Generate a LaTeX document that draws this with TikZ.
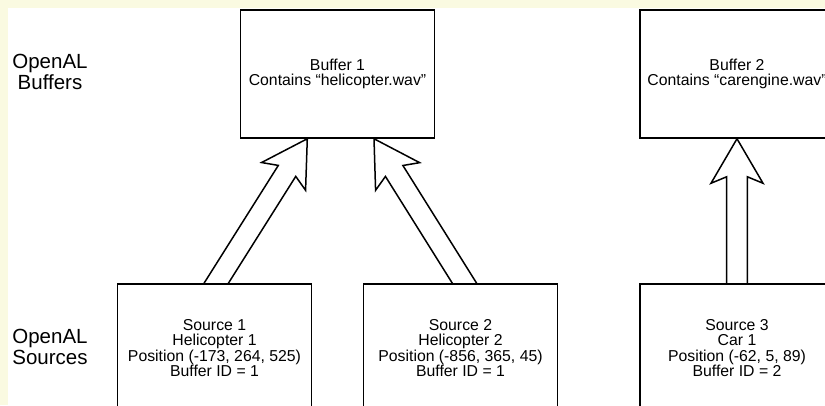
\documentclass[tikz,border=0pt]{standalone}
\usepackage{fontspec}
\setmainfont{Liberation Sans}
\usetikzlibrary{calc,backgrounds}
\pgfdeclarelayer{back}
\pgfsetlayers{back,background,main}
\definecolor{pagebg}{HTML}{FAFAE1}
\tikzset{
  box/.style={draw=black, line width=1.5pt, fill=white, minimum width=194pt, minimum height=128pt,
    align=center, inner sep=0pt, font=\fontsize{15.8pt}{15.6pt}\selectfont},
  rowlabel/.style={align=center, inner sep=0pt, font=\fontsize{20.5pt}{21pt}\selectfont},
  blockarrow/.style={draw=black, line width=1.5pt, fill=white, line join=miter}
}
\newcommand\blockarrow[2]{% #1 base point, #2 tip
  \coordinate (ba-s) at ($(#1)!-25pt!(#2)$);
  \coordinate (ba-n) at ($(#2)!38pt!(#1)$);
  \coordinate (ba-b) at ($(#2)!44.5pt!(#1)$);
  \draw[blockarrow] ($(ba-s)!10.3pt!90:(#2)$) -- ($(ba-n)!10.3pt!90:(#2)$)
    -- ($(ba-b)!26pt!90:(#2)$) -- (#2) -- ($(ba-b)!26pt!-90:(#2)$)
    -- ($(ba-n)!10.3pt!-90:(#2)$) -- ($(ba-s)!10.3pt!-90:(#2)$) -- cycle;
}
\begin{document}
\begin{tikzpicture}[x=1pt, y=-1pt]
\begin{pgfonlayer}{back}
  \fill[pagebg] (0,0) rectangle (825,405);
  \fill[white] (8,8) rectangle (825,405);
\end{pgfonlayer}
\useasboundingbox (0,0) rectangle (825,405);

\node[rowlabel] (lb) at (50,72) {OpenAL\\Buffers};
\node[rowlabel] (ls) at (50,347) {OpenAL\\Sources};

\begin{scope}
\clip (0,0) rectangle (825,405);
\node[box] (b1) at (337.5,74) {Buffer 1\\Contains “helicopter.wav”};
\node[box] (b2) at (737,74) {Buffer 2\\Contains “carengine.wav”};
\node[box] (s1) at (214.5,348) {Source 1\\Helicopter 1\\Position (-173, 264, 525)\\Buffer ID = 1};
\node[box] (s2) at (460.5,348) {Source 2\\Helicopter 2\\Position (-856, 365, 45)\\Buffer ID = 1};
\node[box] (s3) at (737,348) {Source 3\\Car 1\\Position (-62, 5, 89)\\Buffer ID = 2};
\end{scope}

\coordinate (a1s) at ($(s1.north)+(1.7,0)$);
\coordinate (a1t) at ($(b1.south)+(-30.2,0)$);
\coordinate (a2s) at ($(s2.north)+(4,0)$);
\coordinate (a2t) at ($(b1.south)+(36.5,0)$);

\begin{pgfonlayer}{background}
  \blockarrow{a1s}{a1t}
  \blockarrow{a2s}{a2t}
  \blockarrow{s3.north}{b2.south}
\end{pgfonlayer}
\end{tikzpicture}
\end{document}
